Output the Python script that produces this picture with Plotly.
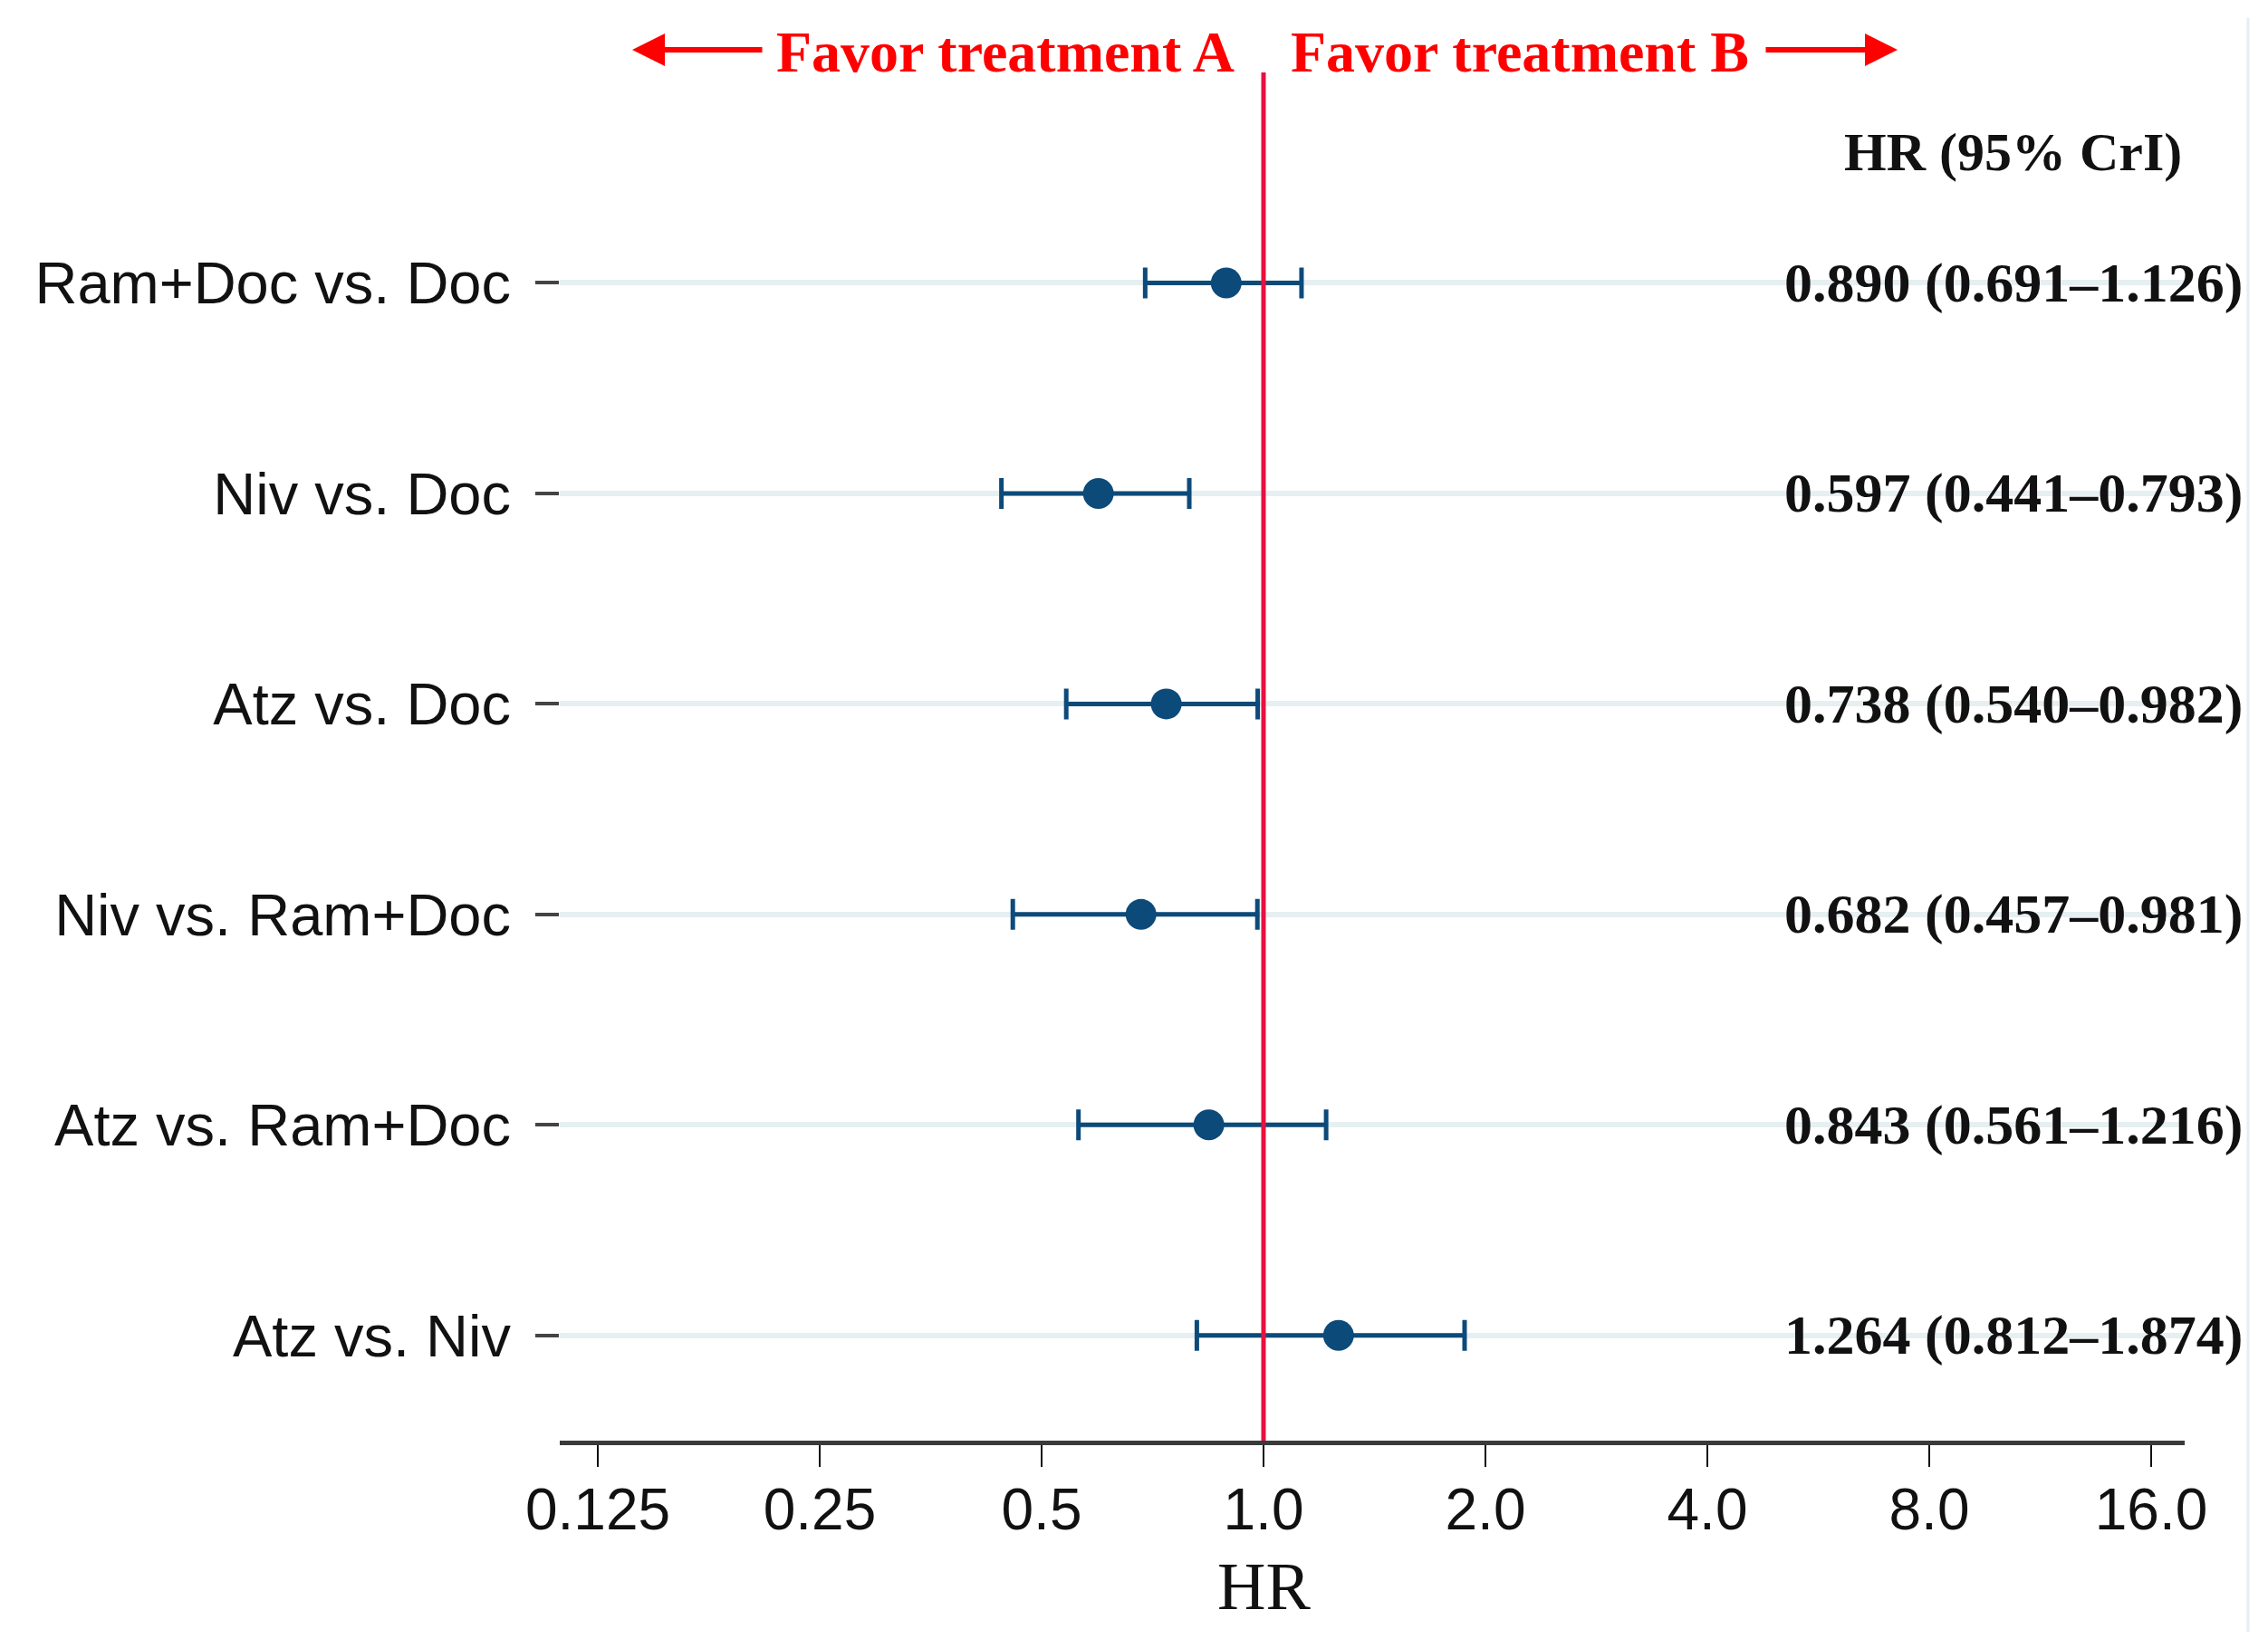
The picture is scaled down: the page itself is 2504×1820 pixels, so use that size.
import plotly.graph_objects as go

# ---- data ----
comparisons = ["Ram+Doc vs. Doc", "Niv vs. Doc", "Atz vs. Doc",
               "Niv vs. Ram+Doc", "Atz vs. Ram+Doc", "Atz vs. Niv"]
hr = [0.890, 0.597, 0.738, 0.682, 0.843, 1.264]
lo = [0.691, 0.441, 0.540, 0.457, 0.561, 0.812]
hi = [1.126, 0.793, 0.982, 0.981, 1.216, 1.874]
x_tickvals = [0.125, 0.25, 0.5, 1.0, 2.0, 4.0, 8.0, 16.0]
x_ticktext = ["0.125", "0.25", "0.5", "1.0", "2.0", "4.0", "8.0", "16.0"]

rows = list(range(len(comparisons)))
navy = "#0c4a7a"
red_line = "#e8103f"
red_txt = "#ff0000"
sans = "Liberation Sans, Arial, sans-serif"
serif = "Liberation Serif, Times New Roman, serif"

fig = go.Figure()
fig.add_trace(go.Scatter(
    x=hr, y=rows, mode="markers",
    marker=dict(color=navy, size=34, symbol="circle"),
    error_x=dict(type="data", symmetric=False,
                 array=[h - m for h, m in zip(hi, hr)],
                 arrayminus=[m - l for m, l in zip(hr, lo)],
                 color=navy, thickness=5, width=17),
    showlegend=False, hoverinfo="skip",
))

# reference line at HR = 1
fig.add_shape(type="line", xref="x", yref="paper", x0=1.0, x1=1.0, y0=0, y1=1,
              line=dict(color=red_line, width=5), layer="above")

# faint frame line at right edge
fig.add_shape(type="line", xref="paper", yref="paper",
              x0=1.0390, x1=1.0390, y0=-0.14, y1=1.04,
              line=dict(color="#e4eef1", width=3), layer="below")

annotations = []
# right-hand text
annotations.append(dict(x=0.8946, xref="paper", y=-0.62, yref="y",
                        text="<b>HR (95% CrI)</b>", showarrow=False,
                        font=dict(family=serif, size=60, color="#111111"),
                        xanchor="center", yanchor="middle"))
for i in rows:
    annotations.append(dict(x=0.8946, xref="paper", y=i, yref="y",
                            text="<b>%.3f (%.3f\u2013%.3f)</b>" % (hr[i], lo[i], hi[i]),
                            showarrow=False,
                            font=dict(family=serif, size=62, color="#111111"),
                            xanchor="center", yanchor="middle"))
# favor labels
annotations.append(dict(x=0.4164, xref="paper", y=1.0146, yref="paper",
                        text="<b>Favor treatment A</b>", showarrow=False,
                        font=dict(family=serif, size=64, color=red_txt),
                        xanchor="right", yanchor="middle"))
annotations.append(dict(x=0.4487, xref="paper", y=1.0146, yref="paper",
                        text="<b>Favor treatment B</b>", showarrow=False,
                        font=dict(family=serif, size=64, color=red_txt),
                        xanchor="left", yanchor="middle"))
# arrows
annotations.append(dict(x=(698 - 618) / 1794, xref="paper", y=1.0166, yref="paper",
                        ax=145, ay=0, text="", showarrow=True,
                        arrowhead=2, arrowsize=1.2, arrowwidth=6, arrowcolor=red_txt,
                        standoff=0, startstandoff=0))
annotations.append(dict(x=(2095 - 618) / 1794, xref="paper", y=1.0166, yref="paper",
                        ax=-147, ay=0, text="", showarrow=True,
                        arrowhead=2, arrowsize=1.2, arrowwidth=6, arrowcolor=red_txt,
                        standoff=0, startstandoff=0))
# x-axis title "HR" centred on 1.0
annotations.append(dict(x=0.0, xref="x", y=-0.1066, yref="paper",
                        text="HR", showarrow=False,
                        font=dict(family=serif, size=74, color="#111111"),
                        xanchor="center", yanchor="middle"))

fig.update_layout(
    width=2504, height=1820,
    margin=dict(l=610, r=100, t=72, b=237),
    paper_bgcolor="white", plot_bgcolor="white",
    annotations=annotations,
    xaxis=dict(type="log", range=[-0.9547, 1.2496],
               tickvals=x_tickvals, ticktext=x_ticktext,
               showgrid=False, zeroline=False,
               showline=True, linecolor="#3a3a3a", linewidth=5,
               ticks="outside", ticklen=24, tickwidth=2, tickcolor="#111111",
               ticklabelstandoff=-8,
               tickfont=dict(family=sans, size=64, color="#111111")),
    yaxis=dict(range=[5.5, -1.0], tickvals=rows, ticktext=comparisons,
               showgrid=True, gridcolor="#e6eff1", gridwidth=6,
               zeroline=False, showline=False,
               ticks="outside", ticklen=26, tickwidth=4, tickcolor="#444444",
               ticklabelstandoff=14,
               tickfont=dict(family=sans, size=65, color="#111111")),
)

fig.write_html("out.html")
